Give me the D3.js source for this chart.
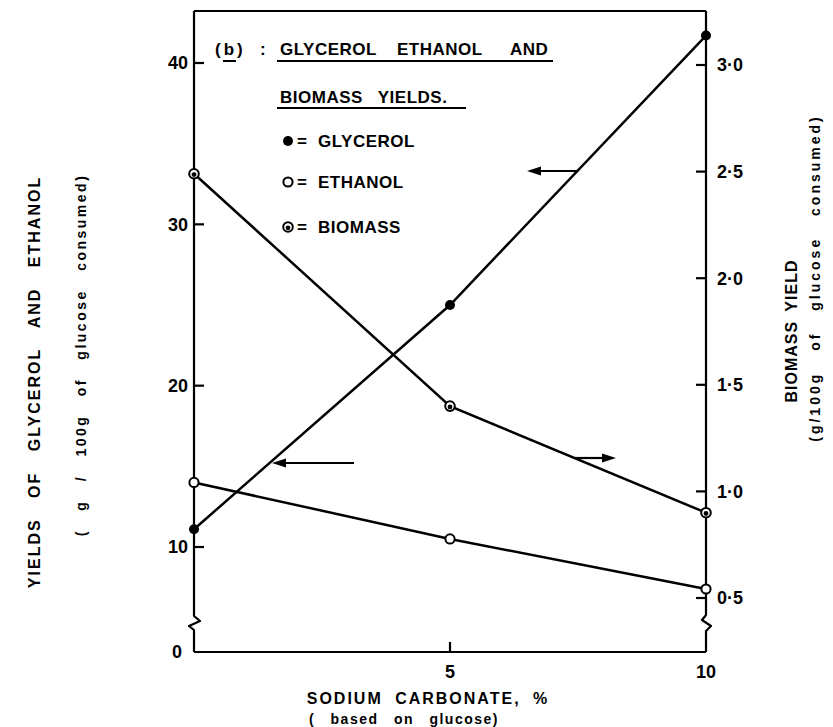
<!DOCTYPE html>
<html><head><meta charset="utf-8">
<script src="https://cdn.jsdelivr.net/npm/d3@7"></script>
<style>
body{margin:0;background:#fff}
svg{display:block}
text{font-family:"Liberation Sans",Arial,sans-serif;font-weight:bold;fill:#000}
</style>
</head><body>
<svg id="c" width="833" height="727"></svg>
<script>
// ---- data ----
const sodiumCarbonate = [0, 5, 10];
const glycerol = [11.1, 25.0, 41.7];   // left axis
const ethanol  = [14.0, 10.5, 6.0];    // left axis
const biomass  = [2.49, 1.40, 0.90];   // right axis
const xTicks = [5, 10];
const xTickLabels = ["5", "10"];
const leftTicks = [10, 20, 30, 40];
const leftTickLabels = ["10", "20", "30", "40"];
const rightTicks = [0.5, 1.0, 1.5, 2.0, 2.5, 3.0];
const rightTickLabels = ["0·5", "1·0", "1·5", "2·0", "2·5", "3·0"];

const svg = d3.select("#c");
const X0 = 194, X1 = 706, TOP = 11, BOT = 652;
const x = d3.scaleLinear().domain([0, 10]).range([X0, X1]);
// broken left axis: 0 drawn at the bottom, 10..40 linear
const yL = d3.scaleLinear().domain([0, 10, 40]).range([BOT, 547, 63]);
const yR = d3.scaleLinear().domain([0.5, 3.0]).range([598, 65]);

const ink = "#000";
// frame
svg.append("path").attr("fill", "none").attr("stroke", ink).attr("stroke-width", 2.2)
  .attr("d", `M${X0},${TOP}H${X1}`);
svg.append("path").attr("fill", "none").attr("stroke", ink).attr("stroke-width", 2.2)
  .attr("d", `M${X0},${BOT}H${X1}`);
svg.append("path").attr("fill", "none").attr("stroke", ink).attr("stroke-width", 2.2).attr("stroke-linejoin", "round")
  .attr("d", `M${X0},${TOP}V616L${X0+6},621L${X0-5},626L${X0},630V${BOT}`);
svg.append("path").attr("fill", "none").attr("stroke", ink).attr("stroke-width", 2.2).attr("stroke-linejoin", "round")
  .attr("d", `M${X1},${TOP}V615L${X1-4},620L${X1+5},626L${X1},631V${BOT}`);

// left ticks
const gL = svg.append("g");
gL.selectAll("line").data(leftTicks).join("line")
  .attr("x1", X0).attr("x2", X0 + 10).attr("y1", d => yL(d)).attr("y2", d => yL(d))
  .attr("stroke", ink).attr("stroke-width", 2.2);
gL.selectAll("text").data(leftTicks).join("text")
  .attr("x", X0 - 6).attr("y", d => yL(d)).attr("dy", "0.36em").attr("text-anchor", "end")
  .attr("font-size", 18).text((d, i) => leftTickLabels[i]);
svg.append("text").attr("x", 177).attr("y", yL(0)).attr("dy", "0.36em").attr("text-anchor", "middle")
  .attr("font-size", 18).text("0");

// right ticks
const gR = svg.append("g");
gR.selectAll("line").data(rightTicks).join("line")
  .attr("x1", X1 - 10).attr("x2", X1).attr("y1", d => yR(d)).attr("y2", d => yR(d))
  .attr("stroke", ink).attr("stroke-width", 2.2);
gR.selectAll("text").data(rightTicks).join("text")
  .attr("x", X1 + 11).attr("y", d => yR(d)).attr("dy", "0.36em").attr("text-anchor", "start")
  .attr("font-size", 18).text((d, i) => rightTickLabels[i]);

// bottom ticks
const gB = svg.append("g");
gB.selectAll("line").data(xTicks.filter(d => d < 10)).join("line")
  .attr("x1", d => x(d)).attr("x2", d => x(d)).attr("y1", BOT).attr("y2", BOT - 10)
  .attr("stroke", ink).attr("stroke-width", 2.2);
gB.selectAll("text").data(xTicks).join("text")
  .attr("x", d => x(d)).attr("y", 678).attr("text-anchor", "middle")
  .attr("font-size", 18).text((d, i) => xTickLabels[i]);

// axis titles
svg.append("text").attr("x", 428).attr("y", 704).attr("text-anchor", "middle")
  .attr("font-size", 16).attr("letter-spacing", 2).attr("word-spacing", 6).text("SODIUM CARBONATE, %");
svg.append("text").attr("x", 404).attr("y", 724).attr("text-anchor", "middle")
  .attr("font-size", 14).attr("letter-spacing", 1.5).attr("word-spacing", 10).text("( based on glucose)");

svg.append("text").attr("transform", "translate(40,382) rotate(-90)").attr("text-anchor", "middle")
  .attr("font-size", 16).attr("letter-spacing", 2).attr("word-spacing", 14).text("YIELDS OF GLYCEROL AND ETHANOL");
svg.append("text").attr("transform", "translate(86,355) rotate(-90)").attr("text-anchor", "middle")
  .attr("font-size", 14).attr("letter-spacing", 2.5).attr("word-spacing", 12).text("( g / 100g of glucose consumed)");

svg.append("text").attr("transform", "translate(797,331) rotate(-90)").attr("text-anchor", "middle")
  .attr("font-size", 16).attr("letter-spacing", 1).attr("word-spacing", 4).text("BIOMASS YIELD");
svg.append("text").attr("transform", "translate(820,278) rotate(-90)").attr("text-anchor", "middle")
  .attr("font-size", 14).attr("letter-spacing", 3).attr("word-spacing", 14).text("(g/100g of glucose consumed)");

// series lines
const lineL = d3.line().x((d, i) => x(sodiumCarbonate[i])).y(d => yL(d));
const lineR = d3.line().x((d, i) => x(sodiumCarbonate[i])).y(d => yR(d));
svg.append("path").attr("d", lineL(glycerol)).attr("fill", "none").attr("stroke", ink).attr("stroke-width", 2.5);
svg.append("path").attr("d", lineL(ethanol)).attr("fill", "none").attr("stroke", ink).attr("stroke-width", 2.5);
svg.append("path").attr("d", lineR(biomass)).attr("fill", "none").attr("stroke", ink).attr("stroke-width", 2.5);

// markers
function filled(g, cx, cy) { g.append("circle").attr("cx", cx).attr("cy", cy).attr("r", 5).attr("fill", ink); }
function open(g, cx, cy) { g.append("circle").attr("cx", cx).attr("cy", cy).attr("r", 4.6).attr("fill", "#fff").attr("stroke", ink).attr("stroke-width", 2); }
function dotted(g, cx, cy) {
  g.append("circle").attr("cx", cx).attr("cy", cy).attr("r", 4.8).attr("fill", "#fff").attr("stroke", ink).attr("stroke-width", 2);
  g.append("circle").attr("cx", cx).attr("cy", cy + 0.8).attr("r", 2.4).attr("fill", ink);
}
const gm = svg.append("g");
glycerol.forEach((v, i) => filled(gm, x(sodiumCarbonate[i]), yL(v)));
ethanol.forEach((v, i) => open(gm, x(sodiumCarbonate[i]), yL(v)));
biomass.forEach((v, i) => dotted(gm, x(sodiumCarbonate[i]), yR(v)));

// arrows (annotations showing which axis each curve uses)
function arrow(x1, y, x2) {
  const dir = Math.sign(x2 - x1);
  svg.append("line").attr("x1", x1).attr("y1", y).attr("x2", x2 - dir * 10).attr("y2", y)
    .attr("stroke", ink).attr("stroke-width", 2.2);
  svg.append("path").attr("fill", ink)
    .attr("d", `M${x2},${y}L${x2 - dir * 14},${y - 4.5}L${x2 - dir * 14},${y + 4.5}Z`);
}
arrow(577, 171, 527);
arrow(575, 458, 616);
arrow(354, 463, 272);

// title & legend
const T = svg.append("g").attr("font-size", 17).attr("letter-spacing", 0.5);
T.append("text").attr("x", 215).attr("y", 55).attr("letter-spacing", 3).text("(b)");
T.append("text").attr("x", 260).attr("y", 55).text(":");
T.append("text").attr("x", 280).attr("y", 55).text("GLYCEROL");
T.append("text").attr("x", 397).attr("y", 55).text("ETHANOL");
T.append("text").attr("x", 510).attr("y", 55).text("AND");
T.append("text").attr("x", 280).attr("y", 103).attr("word-spacing", 10).text("BIOMASS YIELDS.");
svg.append("line").attr("x1", 223).attr("x2", 236).attr("y1", 61).attr("y2", 61).attr("stroke", ink).attr("stroke-width", 2);
svg.append("line").attr("x1", 277).attr("x2", 553).attr("y1", 61).attr("y2", 61).attr("stroke", ink).attr("stroke-width", 2);
svg.append("line").attr("x1", 277).attr("x2", 466).attr("y1", 108).attr("y2", 108).attr("stroke", ink).attr("stroke-width", 2);

const legendNames = ["GLYCEROL", "ETHANOL", "BIOMASS"];
const legendY = [141, 182, 227];
const legendMarks = [filled, open, dotted];
legendNames.forEach((n, i) => {
  legendMarks[i](svg, 288, legendY[i]);
  T.append("text").attr("x", 297).attr("y", legendY[i] + 6).text("=");
  T.append("text").attr("x", 318).attr("y", legendY[i] + 6).text(n);
});
</script>
</body></html>
